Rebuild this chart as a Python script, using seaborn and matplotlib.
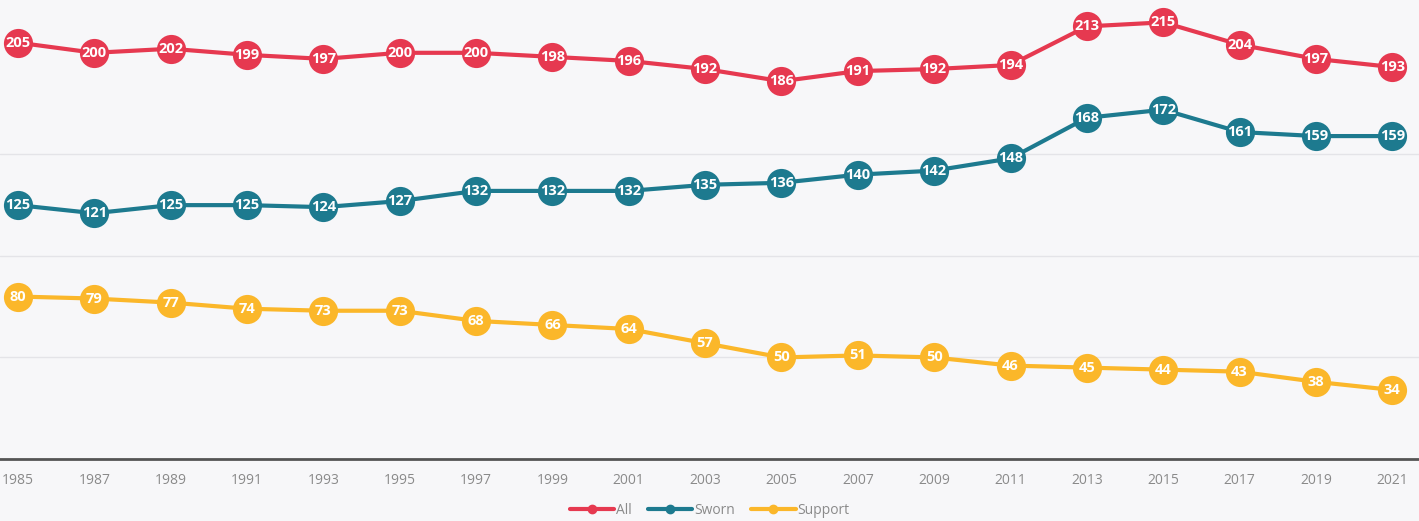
import numpy as np
import pandas as pd
import matplotlib
matplotlib.use("Agg")
import matplotlib.pyplot as plt
import seaborn as sns
from matplotlib.lines import Line2D

years = [1985, 1987, 1989, 1991, 1993, 1995, 1997, 1999, 2001, 2003,
         2005, 2007, 2009, 2011, 2013, 2015, 2017, 2019, 2021]
all_vals = [205, 200, 202, 199, 197, 200, 200, 198, 196, 192,
            186, 191, 192, 194, 213, 215, 204, 197, 193]
sworn_vals = [125, 121, 125, 125, 124, 127, 132, 132, 132, 135,
              136, 140, 142, 148, 168, 172, 161, 159, 159]
support_vals = [80, 79, 77, 74, 73, 73, 68, 66, 64, 57,
                50, 51, 50, 46, 45, 44, 43, 38, 34]
series_names = ["All", "Sworn", "Support"]
colors = ["#e63950", "#1d7a8f", "#fbb72a"]

df = pd.concat([
    pd.DataFrame({"year": years, "value": v, "series": n})
    for n, v in zip(series_names, [all_vals, sworn_vals, support_vals])
])

sns.set_theme(style="white")
plt.rcParams['font.family'] = ['Open Sans', 'DejaVu Sans']

fig = plt.figure(figsize=(14.19, 5.21), dpi=100)
fig.patch.set_facecolor("#f7f7f9")
ax = fig.add_axes([0.0, 0.119, 1.0, 0.881])
ax.set_facecolor("#f7f7f9")

sns.lineplot(data=df, x="year", y="value", hue="series", palette=colors,
             hue_order=series_names, marker="o", markersize=21, linewidth=3,
             markeredgewidth=0, ax=ax, legend=False)

for n, v, c in zip(series_names, [all_vals, sworn_vals, support_vals], colors):
    for x, y in zip(years, v):
        ax.text(x, y, str(y), ha="center", va="center", color="white",
                fontsize=10.5, fontweight="bold", zorder=5)

ax.set_xlim(1984.53, 2021.7)
ax.set_ylim(0, 226)
ax.set_yticks([50, 100, 150])
ax.yaxis.grid(True, color="#e4e4e8", linewidth=1)
ax.set_yticklabels([])
ax.tick_params(axis="y", length=0)
ax.set_xticks(years)
ax.set_xticklabels([str(y) for y in years], color="#8a8a8a", fontsize=10)
ax.tick_params(axis="x", length=0, pad=10)
ax.set_xlabel("")
ax.set_ylabel("")
for s in ["top", "left", "right"]:
    ax.spines[s].set_visible(False)
ax.spines["bottom"].set_color("#555555")
ax.spines["bottom"].set_linewidth(2)

handles = [Line2D([0], [0], color=c, lw=3, marker="o", markersize=6) for c in colors]
fig.legend(handles, series_names, loc="center", bbox_to_anchor=(0.5, 0.02),
           ncol=3, frameon=False, fontsize=10, handlelength=3.2,
           handletextpad=0.1, columnspacing=1.2, labelcolor="#8a8a8a")

fig.savefig("out.png", dpi=100, facecolor=fig.get_facecolor())
